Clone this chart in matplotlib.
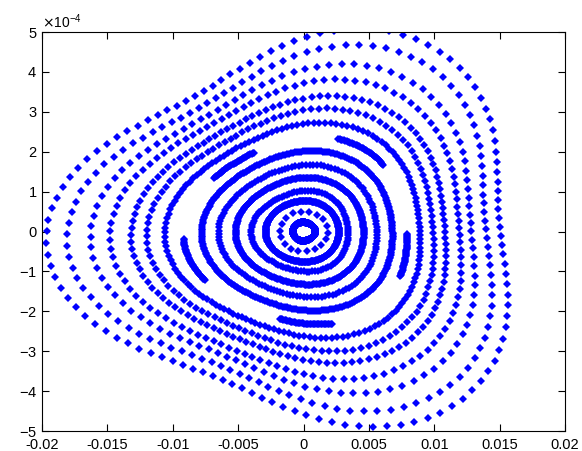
import matplotlib
matplotlib.use("Agg")
import matplotlib.pyplot as plt
import numpy as np

plt.rcParams['font.family'] = ['Liberation Sans', 'DejaVu Sans']
plt.rcParams['axes.unicode_minus'] = False

# ring crossings of the x axis (left side as magnitude)
ring_left = [0.0008, 0.0018, 0.0029, 0.0040, 0.0052, 0.0065, 0.0078, 0.0092,
             0.0106, 0.0120, 0.0132, 0.0148, 0.0163, 0.0181, 0.0197]
ring_right = [0.0009, 0.0019, 0.0027, 0.0034, 0.0046, 0.0056, 0.0068, 0.0079,
              0.0089, 0.0099, 0.0108, 0.0119, 0.0128, 0.0139, 0.0150]
# number of turns plotted on each ring (0 = island chain, drawn as arcs)
ring_points = [300, 18, 300, 110, 300, 140, 300, 0,
               150, 120, 125, 115, 105, 110, 115]
# island chain arcs: centre angle (deg) and angular width
arc_centers = [-15, 58, 130, 198, 272]
arc_width = 27

y_scale = 0.0272      # x' / x ratio
tilt = np.deg2rad(4)  # slight rotation of the triangle

xticks = [-0.02, -0.015, -0.01, -0.005, 0, 0.005, 0.01, 0.015, 0.02]
xticklabels = ['-0.02', '-0.015', '-0.01', '-0.005', '0', '0.005', '0.01', '0.015', '0.02']
yticks = np.arange(-5, 6) * 1e-4


def ring(L, R, theta):
    a = (L + R) / 2
    d = L - R
    # inner rings: asymmetry is mostly a shift, outer rings: triangle
    f = 0.6 * max(0.0, 1 - a / 0.016)
    c = -f * d / 2
    e = (1 - f) * d / (L + R)
    r = a * (1 - e * np.cos(3 * (theta - tilt)))
    return c + r * np.cos(theta), y_scale * r * np.sin(theta)


fig = plt.figure(figsize=(5.82, 4.51), dpi=100)
ax = fig.add_axes([0.0722, 0.0443, 0.8986, 0.8847])

for L, R, n in zip(ring_left, ring_right, ring_points):
    if n > 0:
        th = np.linspace(0, 2 * np.pi, n, endpoint=False) + 0.3
    else:
        th = np.concatenate([np.deg2rad(np.linspace(c - arc_width / 2, c + arc_width / 2, 40))
                             for c in arc_centers])
    x, y = ring(L, R, th)
    ax.plot(x, y, 'D', color='#0000ff', ms=3.6, mew=0)

ax.set_xlim(-0.02, 0.02)
ax.set_ylim(-5e-4, 5e-4)
ax.set_xticks(xticks)
ax.set_xticklabels(xticklabels)
ax.set_yticks(yticks)
ax.ticklabel_format(axis='y', style='sci', scilimits=(0, 0), useMathText=True)
ax.tick_params(direction='in', top=True, right=True, length=5, labelsize=10.5)
ax.tick_params(axis='x', pad=5)
for s in ax.spines.values():
    s.set_linewidth(0.8)

fig.savefig('out.png', dpi=100)
